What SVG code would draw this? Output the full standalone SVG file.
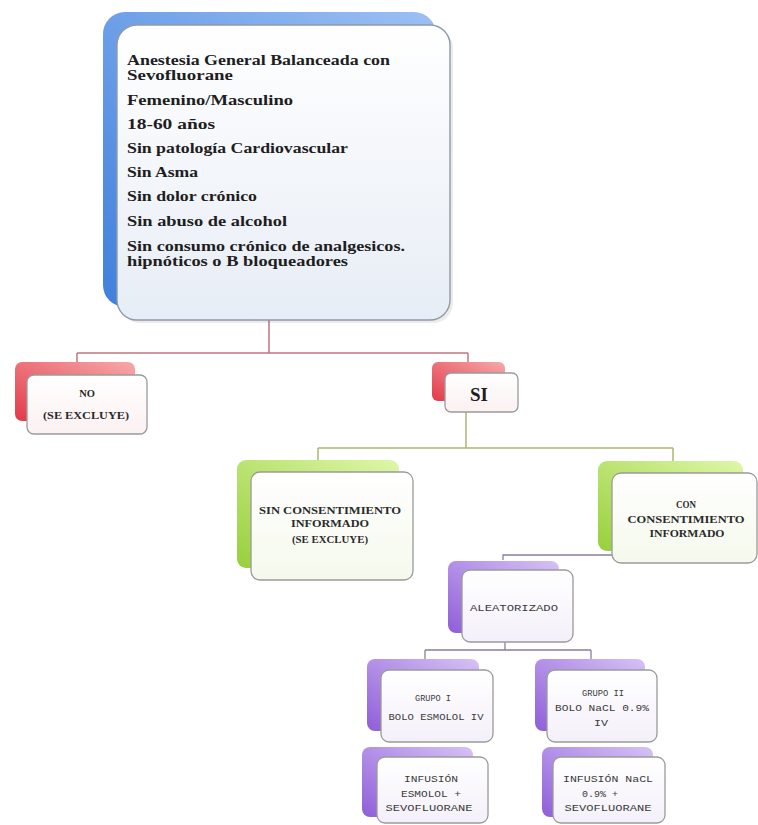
<svg xmlns="http://www.w3.org/2000/svg" width="758" height="825" viewBox="0 0 758 825">
<defs>
<linearGradient id="gBlue" x1="1" y1="0" x2="0" y2="1"><stop offset="0" stop-color="#9cc0f4"/><stop offset="1" stop-color="#3f7fdc"/></linearGradient>
<linearGradient id="gRed" x1="1" y1="0" x2="0" y2="1"><stop offset="0" stop-color="#f6a9a9"/><stop offset="1" stop-color="#e23a4a"/></linearGradient>
<linearGradient id="gGreen" x1="1" y1="0" x2="0" y2="1"><stop offset="0" stop-color="#def7a8"/><stop offset="1" stop-color="#98cf3c"/></linearGradient>
<linearGradient id="gPurple" x1="1" y1="0" x2="0" y2="1"><stop offset="0" stop-color="#d6c2f6"/><stop offset="1" stop-color="#8f5ed8"/></linearGradient>
<linearGradient id="fBlue" x1="0" y1="0" x2="0" y2="1"><stop offset="0" stop-color="#ffffff"/><stop offset="1" stop-color="#e7edf6"/></linearGradient>
<linearGradient id="fRed" x1="0" y1="0" x2="0" y2="1"><stop offset="0" stop-color="#ffffff"/><stop offset="1" stop-color="#fbf1f1"/></linearGradient>
<linearGradient id="fGreen" x1="0" y1="0" x2="0" y2="1"><stop offset="0" stop-color="#ffffff"/><stop offset="1" stop-color="#f5f9ec"/></linearGradient>
<linearGradient id="fPurple" x1="0" y1="0" x2="0" y2="1"><stop offset="0" stop-color="#ffffff"/><stop offset="1" stop-color="#f4f0fa"/></linearGradient>
</defs>
<style>
.front{stroke:#9a9a9a;stroke-width:1.3}
.sh{fill:#000;opacity:0.08}
.t1{font-family:"Liberation Serif","DejaVu Serif",serif;font-weight:bold;font-size:14px;fill:#1e1e1e}
.t2{font-family:"Liberation Serif","DejaVu Serif",serif;font-weight:bold;font-size:10.5px;fill:#2a2a2a;text-anchor:middle}
.t3{font-family:"Liberation Mono","DejaVu Sans Mono",monospace;font-size:8.5px;fill:#3a3a3a;text-anchor:middle}
.cR{stroke:#c47482;stroke-width:1.5;fill:none}
.cG{stroke:#a9b872;stroke-width:1.5;fill:none}
.cP{stroke:#8a7e9e;stroke-width:1.3;fill:none}
</style>

<g id="connectors">
<path class="cR" d="M269 320V353M77 353H468M77 353V362M468 353V363"/>
<path class="cG" d="M466 412V448M318 448H673M318 448V460M673 448V461"/>
<path class="cP" d="M612 555H503V560"/>
<path class="cP" d="M505 642V650M425 650H591M425 650V659M591 650V659"/>
</g>

<g id="criterios">
<rect x="103" y="12" width="333" height="295" rx="22" fill="url(#gBlue)"/>
<rect x="120" y="28" width="333" height="295" rx="20" class="sh"/>
<rect x="117" y="25" width="333" height="295" rx="20" fill="url(#fBlue)" stroke="#8f9aa8" stroke-width="1.4"/>
<text class="t1" x="127" y="65" textLength="263" lengthAdjust="spacingAndGlyphs">Anestesia General Balanceada con</text>
<text class="t1" x="127" y="80" textLength="106" lengthAdjust="spacingAndGlyphs">Sevofluorane</text>
<text class="t1" x="127" y="105" textLength="166" lengthAdjust="spacingAndGlyphs">Femenino/Masculino</text>
<text class="t1" x="127" y="129" textLength="88" lengthAdjust="spacingAndGlyphs">18-60 años</text>
<text class="t1" x="127" y="153" textLength="221" lengthAdjust="spacingAndGlyphs">Sin patología Cardiovascular</text>
<text class="t1" x="127" y="177" textLength="71" lengthAdjust="spacingAndGlyphs">Sin Asma</text>
<text class="t1" x="127" y="201" textLength="130" lengthAdjust="spacingAndGlyphs">Sin dolor crónico</text>
<text class="t1" x="127" y="226" textLength="160" lengthAdjust="spacingAndGlyphs">Sin abuso de alcohol</text>
<text class="t1" x="127" y="251" textLength="278" lengthAdjust="spacingAndGlyphs">Sin consumo crónico de analgesicos.</text>
<text class="t1" x="127" y="266" textLength="221" lengthAdjust="spacingAndGlyphs">hipnóticos o B bloqueadores</text>
</g>

<g id="no">
<rect x="15" y="362" width="120" height="59" rx="7" fill="url(#gRed)"/>
<rect x="27" y="375" width="120" height="59" rx="7" fill="url(#fRed)" class="front"/>
<text class="t2" x="87" y="397">NO</text>
<text class="t2" x="86" y="419" textLength="86" lengthAdjust="spacingAndGlyphs">(SE EXCLUYE)</text>
</g>

<g id="si">
<rect x="432" y="362" width="73" height="39" rx="6" fill="url(#gRed)"/>
<rect x="445" y="373" width="73" height="39" rx="6" fill="url(#fRed)" class="front"/>
<text class="t1" x="479" y="401" text-anchor="middle" style="font-size:19px">SI</text>
</g>

<g id="sin-consentimiento">
<rect x="237" y="460" width="162" height="108" rx="9" fill="url(#gGreen)"/>
<rect x="251" y="472" width="162" height="108" rx="9" fill="url(#fGreen)" class="front"/>
<text class="t2" x="330" y="514" textLength="142" lengthAdjust="spacingAndGlyphs">SIN CONSENTIMIENTO</text>
<text class="t2" x="330" y="527" textLength="78" lengthAdjust="spacingAndGlyphs">INFORMADO</text>
<text class="t2" x="330" y="543" textLength="76" lengthAdjust="spacingAndGlyphs">(SE EXCLUYE)</text>
</g>

<g id="con-consentimiento">
<rect x="598" y="461" width="145" height="90" rx="9" fill="url(#gGreen)"/>
<rect x="612" y="473" width="145" height="90" rx="9" fill="url(#fGreen)" class="front"/>
<text class="t2" x="686" y="508" textLength="20" lengthAdjust="spacingAndGlyphs">CON</text>
<text class="t2" x="686" y="523" textLength="117" lengthAdjust="spacingAndGlyphs">CONSENTIMIENTO</text>
<text class="t2" x="687" y="537" textLength="75" lengthAdjust="spacingAndGlyphs">INFORMADO</text>
</g>

<g id="aleatorizado">
<rect x="448" y="561" width="111" height="72" rx="8" fill="url(#gPurple)"/>
<rect x="462" y="570" width="111" height="72" rx="8" fill="url(#fPurple)" class="front"/>
<text class="t3" x="514" y="611" textLength="88" lengthAdjust="spacingAndGlyphs">ALEATORIZADO</text>
</g>

<g id="grupo1">
<rect x="367" y="659" width="112" height="72" rx="8" fill="url(#gPurple)"/>
<rect x="381" y="670" width="112" height="72" rx="8" fill="url(#fPurple)" class="front"/>
<text class="t3" x="433" y="701" textLength="36" lengthAdjust="spacingAndGlyphs">GRUPO I</text>
<text class="t3" x="436" y="720" textLength="95" lengthAdjust="spacingAndGlyphs">BOLO ESMOLOL IV</text>
</g>

<g id="grupo2">
<rect x="535" y="659" width="110" height="72" rx="8" fill="url(#gPurple)"/>
<rect x="547" y="670" width="110" height="72" rx="8" fill="url(#fPurple)" class="front"/>
<text class="t3" x="603" y="696" textLength="42" lengthAdjust="spacingAndGlyphs">GRUPO II</text>
<text class="t3" x="602" y="711" textLength="94" lengthAdjust="spacingAndGlyphs">BOLO NaCL 0.9%</text>
<text class="t3" x="601" y="726" textLength="14" lengthAdjust="spacingAndGlyphs">IV</text>
</g>

<g id="infusion1">
<rect x="362" y="747" width="111" height="70" rx="8" fill="url(#gPurple)"/>
<rect x="377" y="757" width="111" height="66" rx="8" fill="url(#fPurple)" class="front"/>
<text class="t3" x="431" y="782" textLength="54" lengthAdjust="spacingAndGlyphs">INFUSIÓN</text>
<text class="t3" x="431" y="797" textLength="60" lengthAdjust="spacingAndGlyphs">ESMOLOL +</text>
<text class="t3" x="429" y="811" textLength="87" lengthAdjust="spacingAndGlyphs">SEVOFLUORANE</text>
</g>

<g id="infusion2">
<rect x="542" y="747" width="111" height="70" rx="8" fill="url(#gPurple)"/>
<rect x="553" y="757" width="112" height="66" rx="8" fill="url(#fPurple)" class="front"/>
<text class="t3" x="608" y="782" textLength="90" lengthAdjust="spacingAndGlyphs">INFUSIÓN NaCL</text>
<text class="t3" x="600" y="797" textLength="36" lengthAdjust="spacingAndGlyphs">0.9% +</text>
<text class="t3" x="608" y="811" textLength="87" lengthAdjust="spacingAndGlyphs">SEVOFLUORANE</text>
</g>
</svg>
